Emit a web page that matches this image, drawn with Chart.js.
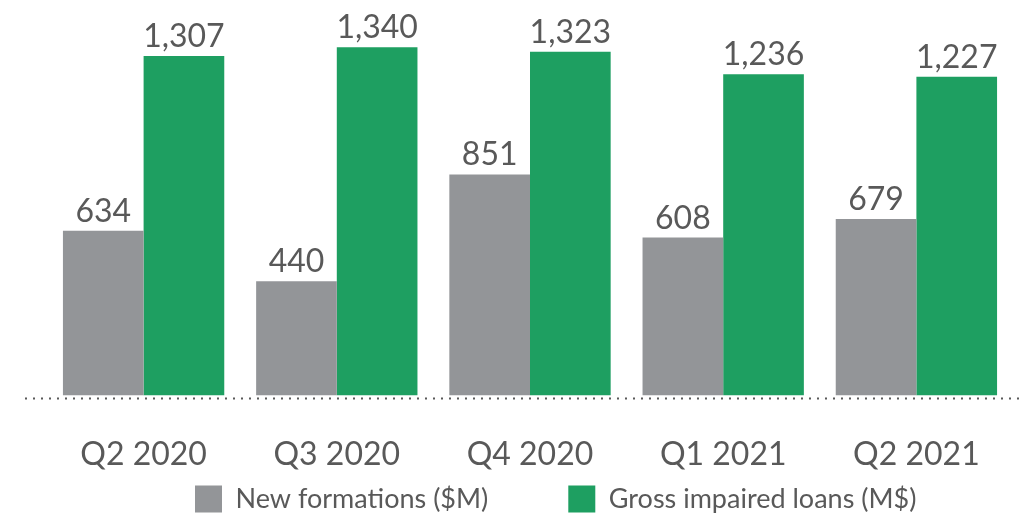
<!DOCTYPE html>
<html>
<head>
<meta charset="utf-8">
<script src="https://cdn.jsdelivr.net/npm/chart.js@4.4.1/dist/chart.umd.min.js"></script>
<style>
  html, body { margin: 0; padding: 0; background: #fff; }
  #wrap { width: 1026px; height: 520px; }
</style>
</head>
<body>
<div id="wrap"><canvas id="chart"></canvas></div>
<script>
const quarters = ["Q2 2020", "Q3 2020", "Q4 2020", "Q1 2021", "Q2 2021"];
const newFormations = [634, 440, 851, 608, 679];
const grossImpaired = [1307, 1340, 1323, 1236, 1227];
const seriesNames = ["New formations ($M)", "Gross impaired loans (M$)"];

const textColor = "#595959";
const grey = "#939598";
const green = "#1e9f61";
const fontFamily = "Lato, 'Open Sans', sans-serif";

// values written above each bar
const barLabels = {
    id: "barLabels",
    afterDatasetsDraw(chart) {
        const ctx = chart.ctx;
        ctx.save();
        ctx.font = "32px " + fontFamily;
        ctx.fillStyle = textColor;
        ctx.textAlign = "center";
        ctx.textBaseline = "alphabetic";
        chart.data.datasets.forEach((ds, i) => {
            chart.getDatasetMeta(i).data.forEach((bar, j) => {
                ctx.fillText(ds.data[j].toLocaleString("en-US"), bar.x, bar.y - 9);
            });
        });
        ctx.restore();
    }
};

// dotted baseline, runs wider than the plot area
const dottedBase = {
    id: "dottedBase",
    afterDraw(chart) {
        const ctx = chart.ctx;
        const y = chart.scales.y.getPixelForValue(0) + 3;
        ctx.save();
        ctx.strokeStyle = textColor;
        ctx.lineWidth = 2;
        ctx.setLineDash([2, 6]);
        ctx.beginPath();
        ctx.moveTo(25, y);
        ctx.lineTo(1021, y);
        ctx.stroke();
        ctx.restore();
    }
};

// legend sits a bit right of centre in the original
const legendShift = {
    id: "legendShift",
    afterLayout(chart) {
        const lg = chart.legend;
        const pad = lg.options.labels.padding;
        const startX = (lg.left + pad + lg.right - lg.lineWidths[0]) / 2;
        const dx = 195 - startX;
        lg.left += dx;
        lg.right += dx;
        lg.top = 485.5 - pad;
        lg.bottom = 520;
    }
};

new Chart(document.getElementById("chart"), {
    type: "bar",
    data: {
        labels: quarters,
        datasets: [
            { label: seriesNames[0], data: newFormations, backgroundColor: grey },
            { label: seriesNames[1], data: grossImpaired, backgroundColor: green }
        ]
    },
    options: {
        responsive: true,
        maintainAspectRatio: false,
        animation: false,
        layout: { padding: { left: 47, right: 13, top: 0, bottom: -42 } },
        datasets: {
            bar: { barPercentage: 1, categoryPercentage: 0.835 }
        },
        scales: {
            x: {
                grid: { display: false, drawTicks: false },
                border: { display: false },
                ticks: {
                    color: textColor,
                    font: { family: fontFamily, size: 32 },
                    padding: 40
                }
            },
            y: {
                display: false,
                min: 0,
                max: 1522
            }
        },
        plugins: {
            legend: {
                position: "bottom",
                maxHeight: 48,
                labels: {
                    color: textColor,
                    font: { family: fontFamily, size: 27 },
                    boxWidth: 27,
                    boxHeight: 27,
                    padding: 80
                }
            },
            tooltip: { enabled: false }
        }
    },
    plugins: [barLabels, dottedBase, legendShift]
});
</script>
</body>
</html>
